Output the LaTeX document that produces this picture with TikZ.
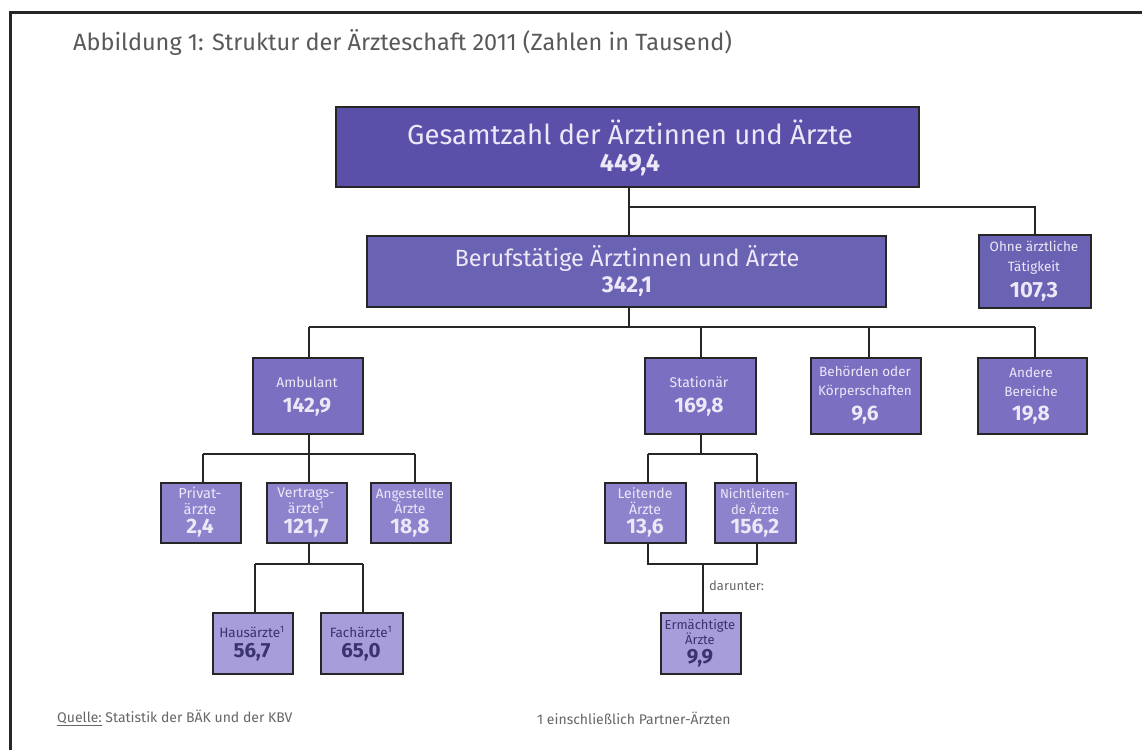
\documentclass[tikz,border=0pt]{standalone}
\usepackage{fontspec}
\setmainfont{Fira Sans}
\begin{document}
\begin{tikzpicture}[x=1pt,y=-1pt,
  box/.style={draw=black!85,line width=1.8pt,anchor=north west,inner sep=0pt},
  lvlA/.style={box,fill=c1},
  lvlB/.style={box,fill=c2},
  lvlC/.style={box,fill=c3},
  lvlD/.style={box,fill=c4},
  lvlE/.style={box,fill=c5},
  conn/.style={draw=black!85,line width=1.8pt},
  txt/.style={text=tl,inner sep=0pt,align=center},
  dtxt/.style={text=c5t,inner sep=0pt,align=center},
  lblC/.style={txt,font=\fontsize{13.5}{19}\selectfont},
  lblD/.style={txt,font=\fontsize{13.5}{15.5}\selectfont},
  lblE/.style={dtxt,font=\fontsize{13.5}{15}\selectfont},
  numC/.style={txt,font=\fontsize{21}{22}\selectfont\bfseries},
  numD/.style={txt,font=\fontsize{21}{22}\selectfont\bfseries},
  numE/.style={dtxt,font=\fontsize{20.5}{22}\selectfont\bfseries},
  foot/.style={anchor=west,text=black!60,inner sep=0pt,font=\fontsize{14}{16}\selectfont}]
\definecolor{c1}{HTML}{5A50AA}
\definecolor{c2}{HTML}{6A62B2}
\definecolor{c3}{HTML}{7A6FC0}
\definecolor{c4}{HTML}{8D83CC}
\definecolor{c5}{HTML}{A69DDA}
\definecolor{c5t}{HTML}{3A336E}
\definecolor{tl}{HTML}{ECE8F8}
\useasboundingbox (0,0) rectangle (1142,750);
\fill[white] (0,0) rectangle (1142,750);
\draw[line width=3pt,black!85] (10.5,750) -- (10.5,12.5) -- (1142,12.5);
\node[anchor=west,text=black!65,inner sep=0pt,font=\fontsize{23.5}{26}\selectfont] (title) at (73,42) {Abbildung 1: Struktur der Ärzteschaft 2011 (Zahlen in Tausend)};

% level 1
\node[lvlA,minimum width=583,minimum height=80] (ges) at (335,106) {};
\node[txt,font=\fontsize{27.5}{30}\selectfont] (gesT) at (630,132) {Gesamtzahl der Ärztinnen und Ärzte};
\node[txt,font=\fontsize{25}{28}\selectfont\bfseries] (gesN) at (630,165) {449,4};

% level 2
\node[lvlB,minimum width=519,minimum height=71] (ber) at (366,235) {};
\node[txt,font=\fontsize{23.5}{26}\selectfont] (berT) at (627,258) {Berufstätige Ärztinnen und Ärzte};
\node[txt,font=\fontsize{23}{26}\selectfont\bfseries] (berN) at (627,287) {342,1};
\node[lvlB,minimum width=112,minimum height=73] (ohne) at (978,234) {};
\node[lblC,font=\fontsize{13.5}{20}\selectfont] (ohneT) at (1034,258) {Ohne ärztliche\\Tätigkeit};
\node[numC,font=\fontsize{22}{24}\selectfont\bfseries] (ohneN) at (1034,292) {107,3};

% level 3
\node[lvlC,minimum width=110,minimum height=76] (amb) at (252,357) {};
\node[lblC,font=\fontsize{14}{19}\selectfont] (ambT) at (307,382) {Ambulant};
\node[numC] (ambN) at (307,407) {142,9};
\node[lvlC,minimum width=111,minimum height=76] (sta) at (644,357) {};
\node[lblC,font=\fontsize{14}{19}\selectfont] (staT) at (699,382) {Stationär};
\node[numC] (staN) at (699,407) {169,8};
\node[lvlC,minimum width=110,minimum height=76] (beh) at (810,357) {};
\node[lblC] (behT) at (865,382) {Behörden oder\\Körperschaften};
\node[numC] (behN) at (865,415) {9,6};
\node[lvlC,minimum width=109,minimum height=76] (and) at (977,357) {};
\node[lblC] (andT) at (1031,382) {Andere\\Bereiche};
\node[numC] (andN) at (1031,415) {19,8};

% level 4
\node[lvlD,minimum width=80,minimum height=60] (pri) at (160,482) {};
\node[lblD,font=\fontsize{14.5}{16}\selectfont] (priT) at (200,501) {Privat-\\ärzte};
\node[numD] (priN) at (200,528) {2,4};
\node[lvlD,minimum width=80,minimum height=60] (ver) at (266,482) {};
\node[lblD,font=\fontsize{14}{16}\selectfont] (verT) at (306,501) {Vertrags-\\ärzte\textsuperscript{1}};
\node[numD] (verN) at (306,528) {121,7};
\node[lvlD,minimum width=80,minimum height=60] (ang) at (370,482) {};
\node[lblD] (angT) at (410,501) {Angestellte\\Ärzte};
\node[numD] (angN) at (410,528) {18,8};
\node[lvlD,minimum width=81,minimum height=60] (lei) at (604,482) {};
\node[lblD,font=\fontsize{14}{16}\selectfont] (leiT) at (645,501) {Leitende\\Ärzte};
\node[numD] (leiN) at (645,528) {13,6};
\node[lvlD,minimum width=81,minimum height=60] (nle) at (714,482) {};
\node[lblD,font=\fontsize{13}{16}\selectfont] (nleT) at (755,501) {Nichtleiten-\\de Ärzte};
\node[numD] (nleN) at (755,528) {156,2};

% level 5
\node[lvlE,minimum width=80,minimum height=61] (hau) at (212,612) {};
\node[lblE] (hauT) at (252,632) {Hausärzte\textsuperscript{1}};
\node[numE] (hauN) at (252,652) {56,7};
\node[lvlE,minimum width=82,minimum height=61] (fac) at (320,612) {};
\node[lblE] (facT) at (361,632) {Fachärzte\textsuperscript{1}};
\node[numE] (facN) at (361,652) {65,0};
\node[lvlE,minimum width=80,minimum height=61] (erm) at (660,612) {};
\node[lblE,font=\fontsize{13}{15}\selectfont] (ermT) at (700,632) {Ermächtigte\\Ärzte};
\node[numE] (ermN) at (700,658) {9,9};

% connectors
\coordinate (j1) at (629,207);
\draw[conn] (ges.south -| j1) -- (ber.north -| j1);
\draw[conn] (j1) -| (ohne.north);
\coordinate (j2) at (309,327);
\draw[conn] (ber.south -| 629,0) -- (629,327);
\draw[conn] (j2) -- (1035,327);
\draw[conn] (j2) -- (amb.north -| j2);
\draw[conn] (701,327) -- (sta.north -| 701,0);
\draw[conn] (869,327) -- (beh.north -| 869,0);
\draw[conn] (1035,327) -- (and.north -| 1035,0);

\coordinate (j3) at (309,454);
\draw[conn] (amb.south -| j3) -- (j3);
\draw[conn] (203,454) -- (415,454);
\draw[conn] (203,454) -- (pri.north -| 203,0);
\draw[conn] (j3) -- (ver.north -| j3);
\draw[conn] (415,454) -- (ang.north -| 415,0);

\coordinate (j4) at (309,564);
\draw[conn] (ver.south -| j4) -- (j4);
\draw[conn] (255,564) -- (363,564);
\draw[conn] (255,564) -- (hau.north -| 255,0);
\draw[conn] (363,564) -- (fac.north -| 363,0);

\coordinate (j5) at (701,454);
\draw[conn] (sta.south -| j5) -- (j5);
\draw[conn] (648,454) -- (757,454);
\draw[conn] (648,454) -- (lei.north -| 648,0);
\draw[conn] (757,454) -- (nle.north -| 757,0);

\coordinate (j6) at (703,564);
\draw[conn] (lei.south -| 648,0) -- (648,564) -- (757,564) -- (nle.south -| 757,0);
\draw[conn] (j6) -- (erm.north -| j6);
\node[foot,font=\fontsize{13}{14}\selectfont] (dar) at (709,586) {darunter:};

% footer
\node[foot] (quelle) at (57,718) {\underline{Quelle:} Statistik der BÄK und der KBV};
\node[foot] (fn) at (537,718) {1 einschließlich Partner-Ärzten};
\end{tikzpicture}
\end{document}
